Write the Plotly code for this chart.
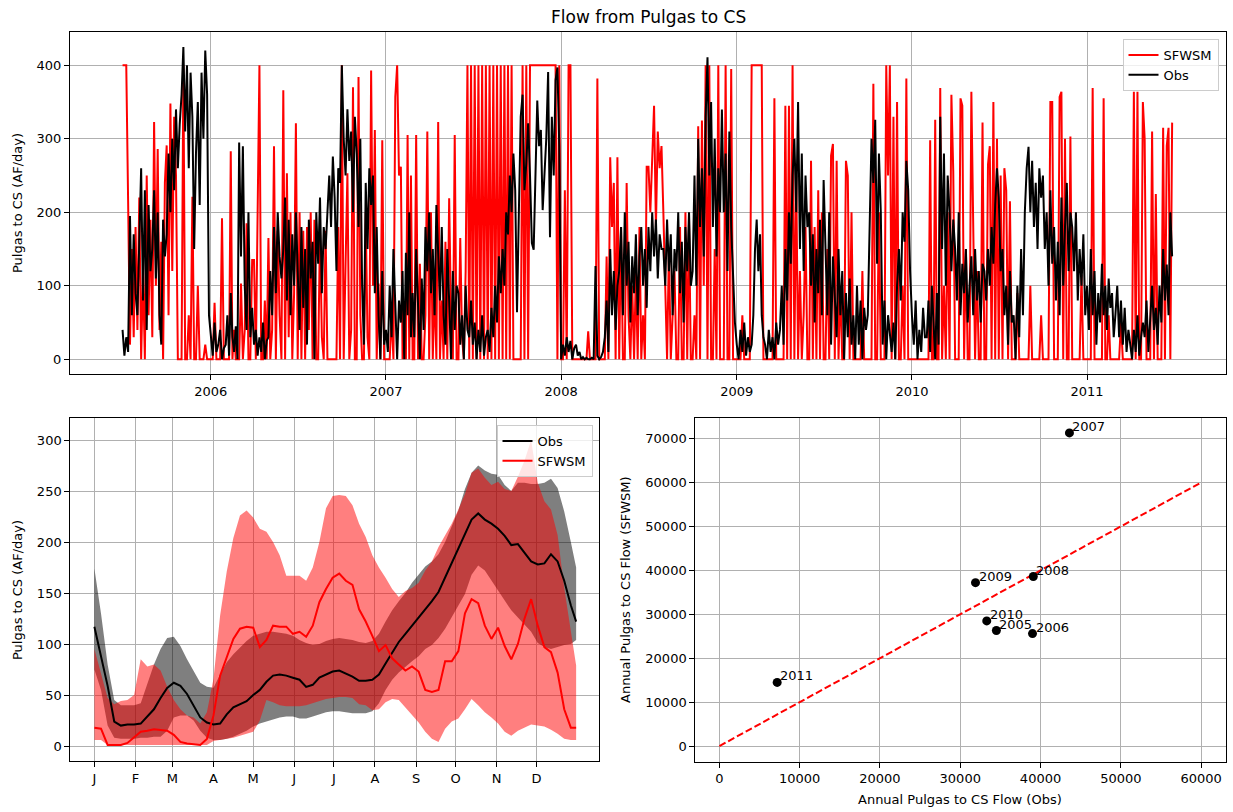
import pandas as pd
import plotly.graph_objects as go

# ---------------- Top panel: flow readings (8 per month) ----------------
obs_2005 = [40, 5, 30, 10, 195, 60, 170, 90,
            60, 180, 260, 80, 230, 40, 210, 120,
            150, 230, 110, 200, 60, 20, 190, 140,
            170, 280, 200, 300, 230, 340, 260, 320,
            360, 425, 310, 400, 260, 390, 330, 150,
            280, 350, 210, 390, 300, 420, 360, 60]
sim_2005 = [400, 400, 400, 215, 20, 150, 30, 180,
            40, 220, 0, 120, 0, 250, 60, 190,
            30, 323, 100, 286, 40, 160, 0, 240,
            291, 60, 348, 120, 330, 250, 0, 0,
            0, 400, 0, 0, 60, 0, 221, 0,
            0, 100, 0, 0, 0, 20, 0, 0]
obs_2006 = [30, 5, 50, 10, 20, 40, 0, 15,
            20, 60, 5, 90, 30, 10, 45, 0,
            295, 140, 290, 100, 40, 200, 30, 70,
            20, 40, 5, 30, 10, 50, 0, 25,
            30, 120, 60, 180, 90, 200, 140, 110,
            150, 220, 80, 190, 60, 170, 100, 200,
            120, 40, 180, 70, 150, 20, 190, 110,
            160, 0, 200, 130, 220, 90, 180, 150,
            200, 250, 180, 276, 220, 120, 260, 240,
            400, 300, 250, 340, 270, 310, 200, 330,
            280, 180, 300, 100, 20, 240, 150, 260,
            210, 250, 90, 180, 60, 0, 120, 20]
sim_2006 = [0, 0, 77, 0, 0, 0, 192, 0,
            0, 0, 0, 283, 0, 40, 0, 0,
            0, 103, 0, 40, 185, 0, 0, 135,
            135, 0, 185, 400, 0, 0, 80, 0,
            165, 0, 40, 290, 0, 175, 60, 0,
            366, 0, 253, 30, 200, 0, 90, 321,
            0, 200, 0, 175, 0, 180, 40, 200,
            0, 190, 0, 0, 175, 30, 0, 175,
            0, 0, 0, 0, 0, 0, 180, 0,
            400, 0, 130, 253, 0, 40, 370, 0,
            0, 384, 60, 0, 0, 200, 30, 0,
            393, 100, 312, 0, 103, 0, 298, 0]
obs_2007 = [40, 10, 100, 30, 150, 60, 0, 80,
            50, 120, 0, 145, 60, 200, 30, 90,
            30, 150, 80, 0, 110, 40, 180, 120,
            200, 90, 150, 60, 210, 130, 80, 180,
            60, 20, 150, 80, 0, 120, 40, 100,
            90, 20, 60, 0, 100, 40, 30, 80,
            20, 50, 0, 40, 10, 60, 5, 30,
            40, 10, 70, 30, 100, 50, 140, 90,
            150, 100, 200, 170, 250, 200, 280, 230,
            64, 200, 330, 360, 230, 266, 321, 250,
            158, 149, 266, 352, 290, 312, 203, 250,
            300, 391, 166, 330, 250, 380, 397, 289]
sim_2007 = [0, 0, 0, 60, 0, 357, 400, 250,
            262, 0, 40, 0, 305, 0, 250, 0,
            0, 305, 0, 130, 0, 0, 60, 310,
            0, 200, 0, 100, 0, 323, 0, 80,
            0, 160, 0, 219, 60, 0, 305, 0,
            0, 165, 30, 0, 120, 400, 0, 400,
            0, 400, 0, 400, 0, 400, 0, 400,
            0, 400, 0, 400, 0, 400, 0, 400,
            0, 400, 0, 400, 0, 400, 0, 0,
            0, 0, 0, 400, 0, 400, 0, 400,
            400, 400, 400, 400, 400, 400, 400, 400,
            400, 400, 400, 400, 400, 400, 0, 400]
obs_2008 = [0, 20, 5, 30, 10, 25, 0, 15,
            20, 5, 10, 0, 3, 0, 2, 0,
            0, 2, 0, 127, 5, 0, 3, 10,
            30, 80, 10, 150, 60, 120, 40, 100,
            120, 180, 60, 200, 100, 160, 50, 140,
            90, 170, 60, 140, 180, 100, 150, 70,
            180, 120, 200, 140, 190, 110, 170, 150,
            150, 100, 190, 120, 170, 60, 150, 120,
            200, 90, 160, 50, 180, 120, 200, 100,
            120, 250, 100, 300, 180, 260, 140, 330,
            411, 250, 350, 180, 300, 140, 260, 200,
            340, 200, 280, 120, 310, 180, 100, 50]
sim_2008 = [0, 0, 230, 0, 400, 400, 0, 0,
            0, 0, 0, 0, 0, 0, 0, 38,
            0, 0, 0, 0, 382, 0, 0, 0,
            0, 140, 0, 275, 180, 240, 0, 275,
            0, 180, 0, 0, 240, 60, 0, 100,
            0, 120, 0, 180, 0, 60, 0, 262,
            262, 200, 290, 345, 180, 310, 260, 290,
            200, 100, 0, 150, 0, 60, 120, 0,
            0, 180, 0, 0, 200, 0, 190, 0,
            0, 60, 0, 317, 0, 325, 100, 400,
            0, 400, 0, 0, 150, 0, 400, 0,
            0, 0, 400, 0, 0, 395, 0, 0]
obs_2009 = [20, 0, 40, 10, 50, 5, 30, 10,
            20, 60, 150, 190, 120, 170, 60, 30,
            20, 0, 40, 10, 30, 0, 50, 20,
            40, 100, 20, 150, 80, 200, 130, 250,
            300, 200, 350, 150, 280, 120, 250, 180,
            200, 100, 170, 50, 150, 90, 190, 60,
            244, 150, 60, 200, 20, 140, 80, 30,
            150, 60, 120, 0, 90, 30, 110, 20,
            60, 0, 100, 20, 80, 0, 70, 40,
            60, 200, 300, 240, 326, 130, 280, 200,
            20, 80, 0, 60, 30, 10, 50, 0,
            100, 150, 80, 200, 160, 270, 230, 120]
sim_2009 = [0, 0, 0, 60, 0, 0, 0, 0,
            400, 400, 400, 400, 400, 400, 400, 0,
            0, 0, 0, 0, 0, 355, 0, 0,
            0, 0, 0, 345, 0, 345, 0, 400,
            0, 250, 0, 120, 0, 60, 180, 0,
            0, 270, 0, 180, 0, 230, 0, 200,
            0, 0, 150, 0, 277, 293, 0, 270,
            0, 100, 0, 0, 270, 250, 0, 200,
            0, 0, 0, 0, 0, 120, 0, 0,
            0, 0, 0, 375, 0, 0, 200, 0,
            0, 0, 400, 250, 400, 0, 330, 0,
            350, 0, 0, 100, 0, 382, 0, 0]
obs_2010 = [60, 20, 80, 0, 40, 10, 70, 30,
            30, 80, 10, 100, 50, 0, 90, 20,
            330, 150, 280, 100, 250, 200, 120, 190,
            150, 80, 200, 60, 130, 90, 150, 50,
            100, 140, 60, 150, 80, 120, 50, 130,
            120, 80, 150, 100, 180, 130, 210, 260,
            220, 120, 150, 60, 100, 20, 120, 50,
            60, 0, 100, 30, 150, 60, 200, 260,
            289, 200, 270, 180, 240, 150, 260, 220,
            250, 150, 200, 100, 230, 130, 180, 80,
            160, 60, 220, 100, 180, 240, 120, 200,
            180, 120, 200, 80, 150, 100, 170, 60]
sim_2010 = [0, 0, 0, 0, 0, 0, 0, 0,
            0, 0, 298, 0, 0, 326, 0, 0,
            369, 0, 100, 0, 200, 0, 360, 255,
            0, 0, 0, 355, 345, 0, 150, 0,
            0, 364, 200, 0, 120, 0, 0, 322,
            0, 0, 265, 290, 0, 350, 0, 300,
            0, 250, 0, 260, 230, 0, 215, 0,
            0, 0, 90, 0, 0, 0, 0, 0,
            0, 100, 0, 0, 0, 0, 0, 60,
            0, 0, 0, 0, 350, 350, 0, 0,
            0, 357, 364, 0, 300, 0, 0, 303,
            0, 0, 0, 0, 0, 115, 0, 0]
obs_2011 = [100, 40, 150, 60, 120, 20, 90, 50,
            130, 60, 100, 40, 110, 70, 90, 30,
            60, 100, 30, 80, 20, 70, 10, 40,
            20, 0, 40, 10, 60, 5, 30, 50,
            30, 80, 10, 60, 100, 40, 70, 20,
            100, 50, 150, 80, 129, 60, 200, 140]
sim_2011 = [0, 0, 0, 369, 0, 0, 0, 0,
            0, 355, 0, 0, 60, 0, 0, 0,
            0, 0, 0, 50, 0, 0, 0, 0,
            0, 0, 364, 0, 364, 0, 0, 350,
            300, 0, 0, 0, 310, 0, 225, 0,
            0, 0, 315, 0, 290, 315, 0, 322]

obs_daily = obs_2005 + obs_2006 + obs_2007 + obs_2008 + obs_2009 + obs_2010 + obs_2011
sim_daily = sim_2005 + sim_2006 + sim_2007 + sim_2008 + sim_2009 + sim_2010 + sim_2011

dates = []
for m in pd.date_range("2005-07-01", "2011-06-01", freq="MS"):
    n = m.days_in_month
    for k in range(8):
        dates.append(m + pd.Timedelta(days=k * n / 8.0))

# ---------------- Bottom-left: seasonal climatology ----------------
doy = list(range(0, 361, 5)) + [364]
obs_mean = [117, 88, 59, 24, 20, 21, 21, 22, 29, 36,
            47, 57, 62, 59, 51, 39, 28, 23, 21, 22,
            31, 38, 41, 44, 50, 55, 63, 69, 70, 69,
            67, 65, 58, 60, 67, 70, 73, 74, 71, 68,
            64, 64, 65, 70, 81, 92, 102, 110, 118, 126,
            133, 142, 151, 165, 180, 194, 207, 222, 228, 222,
            218, 213, 206, 197, 198, 190, 181, 178, 179, 188,
            181, 162, 138, 122]
sim_mean = [18, 17, 1, 1, 1, 3, 9, 14, 15, 16.5,
            15.7, 15, 11, 4, 2.5, 2, 1, 7, 30, 69,
            87, 105, 115, 117, 116, 97, 104, 118, 117, 117,
            110, 112, 107, 118, 141, 154, 165, 169, 162, 158,
            134, 122, 108, 93, 99, 86, 80, 74, 78, 73,
            55, 53, 55, 83, 83, 93, 130, 144, 140, 118,
            105, 116, 98, 85, 100, 125, 144, 118, 97, 92,
            72, 36, 18, 18]
obs_hi = [174, 130, 80, 45, 40, 40, 40, 42, 60, 80,
          95, 106, 107, 98, 85, 73, 62, 58, 57, 70,
          82, 90, 97, 103, 108, 110, 112, 112, 111, 110,
          108, 104, 101, 99, 100, 103, 105, 106, 105, 104,
          102, 101, 103, 110, 122, 133, 142, 150, 160, 168,
          176, 181, 188, 200, 215, 231, 252, 268, 275, 270,
          267, 266, 256, 250, 258, 258, 257, 257, 258, 262,
          253, 230, 200, 175]
obs_lo = [75, 55, 20, 8, 7, 7, 7, 8, 8, 9,
          9, 15, 28, 30, 30, 25, 15, 8, 6, 6,
          7, 9, 12, 15, 19, 22, 24, 26, 28, 29,
          29, 27, 27, 29, 31, 33, 34, 34, 33, 32,
          32, 32, 34, 42, 55, 65, 72, 78, 83, 88,
          95, 99, 106, 115, 126, 138, 149, 168, 177, 172,
          162, 152, 142, 133, 126, 119, 112, 101, 97, 95,
          97, 99, 100, 104]
sim_hi = [95, 70, 47, 41, 44, 45, 50, 85, 78, 80,
          74, 58, 45, 36, 30, 28, 22, 33, 66, 128,
          171, 204, 226, 231, 224, 213, 210, 200, 187, 167,
          167, 167, 162, 175, 200, 233, 245, 246, 245, 236,
          218, 205, 187, 175, 165, 154, 146, 152, 155, 160,
          172, 181, 195, 207, 218, 232, 247, 268, 272, 263,
          256, 259, 252, 250, 264, 280, 300, 258, 240, 232,
          207, 155, 110, 79]
sim_lo = [6, 6, 1, 1, 1, 1, 1, 1, 1, 1,
          1, 1, 1, 1, 1, 1, 1, 1, 5, 6,
          7, 8, 10, 12, 14, 25, 45, 43, 40, 39,
          39, 39, 40, 42, 44, 46, 47, 48, 48, 47,
          41, 40, 35, 36, 43, 46, 45, 38, 31, 23,
          14, 7, 4, 17, 24, 27, 36, 46, 40, 33,
          28, 22, 14, 10, 15, 18, 21, 20, 19, 16,
          12, 7, 6, 6]
month_days = [0, 31, 59, 90, 120, 151, 181, 212, 243, 273, 304, 334]
month_labels = ["J", "F", "M", "A", "M", "J", "J", "A", "S", "O", "N", "D"]

# ---------------- Bottom-right: annual totals ----------------
years = ["2005", "2006", "2007", "2008", "2009", "2010", "2011"]
annual_obs = [34500, 39000, 43600, 39100, 31900, 33300, 7200]
annual_sim = [26300, 25600, 71300, 38600, 37200, 28500, 14500]
one_to_one = [0, 60000]

W, H = 1233, 812
FONT = "DejaVu Sans"
RED = "#ff0000"
BLACK = "#000000"

fig = go.Figure()

# top panel
fig.add_trace(go.Scatter(x=dates, y=sim_daily, mode="lines", name="SFWSM",
                         line=dict(color=RED, width=2),
                         xaxis="x", yaxis="y", legend="legend"))
fig.add_trace(go.Scatter(x=dates, y=obs_daily, mode="lines", name="Obs",
                         line=dict(color=BLACK, width=2),
                         xaxis="x", yaxis="y", legend="legend"))

# bottom-left bands
fig.add_trace(go.Scatter(x=doy, y=obs_lo, mode="lines", line=dict(width=0, color="rgba(0,0,0,0)"),
                         showlegend=False, hoverinfo="skip", xaxis="x2", yaxis="y2"))
fig.add_trace(go.Scatter(x=doy, y=obs_hi, mode="lines", line=dict(width=0, color="rgba(0,0,0,0)"),
                         fill="tonexty", fillcolor="rgba(0,0,0,0.5)",
                         showlegend=False, hoverinfo="skip", xaxis="x2", yaxis="y2"))
fig.add_trace(go.Scatter(x=doy, y=sim_lo, mode="lines", line=dict(width=0, color="rgba(0,0,0,0)"),
                         showlegend=False, hoverinfo="skip", xaxis="x2", yaxis="y2"))
fig.add_trace(go.Scatter(x=doy, y=sim_hi, mode="lines", line=dict(width=0, color="rgba(0,0,0,0)"),
                         fill="tonexty", fillcolor="rgba(255,0,0,0.5)",
                         showlegend=False, hoverinfo="skip", xaxis="x2", yaxis="y2"))
fig.add_trace(go.Scatter(x=doy, y=obs_mean, mode="lines", name="Obs",
                         line=dict(color=BLACK, width=2), xaxis="x2", yaxis="y2", legend="legend2"))
fig.add_trace(go.Scatter(x=doy, y=sim_mean, mode="lines", name="SFWSM",
                         line=dict(color=RED, width=2), xaxis="x2", yaxis="y2", legend="legend2"))

# bottom-right
fig.add_trace(go.Scatter(x=one_to_one, y=one_to_one, mode="lines", showlegend=False,
                         line=dict(color=RED, width=2, dash="7px,3px"), xaxis="x3", yaxis="y3"))
fig.add_trace(go.Scatter(x=annual_obs, y=annual_sim, mode="markers", showlegend=False,
                         marker=dict(color=BLACK, size=9), xaxis="x3", yaxis="y3"))

tick_font = dict(family=FONT, size=13, color="#000000")
common = dict(showline=True, mirror=True, linecolor="#000000", linewidth=1,
              ticks="outside", ticklen=5, tickwidth=1, tickcolor="#000000",
              showgrid=True, gridcolor="#b0b0b0", gridwidth=1, zeroline=False,
              tickfont=tick_font)

def px2fx(px):
    return px / W

def px2fy(py):
    return 1 - py / H

year_ticks = [pd.Timestamp(f"{y}-01-01") for y in range(2006, 2012)]

fig.update_layout(
    width=W, height=H, autosize=False,
    margin=dict(l=0, r=0, t=0, b=0),
    paper_bgcolor="white", plot_bgcolor="white",
    font=dict(family=FONT, size=13, color="#000000"),
    xaxis=dict(domain=[px2fx(70), px2fx(1226)], anchor="y", type="date",
               range=["2005-03-13 12:00", "2011-10-17 12:00"],
               tickvals=year_ticks, ticktext=[str(t.year) for t in year_ticks], **common),
    yaxis=dict(domain=[px2fy(374.3), px2fy(32)], anchor="x", range=[-20.4, 445.3],
               tickvals=[0, 100, 200, 300, 400], **common),
    xaxis2=dict(domain=[px2fx(70.3), px2fx(599.3)], anchor="y2", range=[-18.2, 381.5],
                tickvals=month_days, ticktext=month_labels, **common),
    yaxis2=dict(domain=[px2fy(761.3), px2fy(418.3)], anchor="x2", range=[-15.0, 321.3],
                tickvals=[0, 50, 100, 150, 200, 250, 300], **common),
    xaxis3=dict(domain=[px2fx(695.3), px2fx(1226)], anchor="y3", range=[-3000, 63100],
                tickvals=[0, 10000, 20000, 30000, 40000, 50000, 60000], tickformat="d", **common),
    yaxis3=dict(domain=[px2fy(761.7), px2fy(417.7)], anchor="x3", range=[-3560, 74760],
                tickvals=[0, 10000, 20000, 30000, 40000, 50000, 60000, 70000], tickformat="d", **common),
    legend=dict(x=px2fx(1218.5), y=px2fy(39), xanchor="right", yanchor="top",
                bgcolor="rgba(255,255,255,0.8)", bordercolor="#cccccc", borderwidth=1,
                font=dict(family=FONT, size=13, color="#000000"), traceorder="normal"),
    legend2=dict(x=px2fx(592.5), y=px2fy(425), xanchor="right", yanchor="top",
                 bgcolor="rgba(255,255,255,0.8)", bordercolor="#cccccc", borderwidth=1,
                 font=dict(family=FONT, size=13, color="#000000"), traceorder="normal"),
    showlegend=True,
)

annotations = [
    dict(text="Flow from Pulgas to CS", x=px2fx(648), y=px2fy(17), xref="paper", yref="paper",
         showarrow=False, xanchor="center", yanchor="middle", font=dict(family=FONT, size=17)),
    dict(text="Pulgas to CS (AF/day)", x=px2fx(17), y=px2fy(203), xref="paper", yref="paper",
         showarrow=False, textangle=-90, xanchor="center", yanchor="middle", font=dict(family=FONT, size=13)),
    dict(text="Pulgas to CS (AF/day)", x=px2fx(17), y=px2fy(590), xref="paper", yref="paper",
         showarrow=False, textangle=-90, xanchor="center", yanchor="middle", font=dict(family=FONT, size=13)),
    dict(text="Annual Pulgas to CS Flow (SFWSM)", x=px2fx(625), y=px2fy(590), xref="paper", yref="paper",
         showarrow=False, textangle=-90, xanchor="center", yanchor="middle", font=dict(family=FONT, size=13)),
    dict(text="Annual Pulgas to CS Flow (Obs)", x=px2fx(960), y=px2fy(799), xref="paper", yref="paper",
         showarrow=False, xanchor="center", yanchor="middle", font=dict(family=FONT, size=13)),
]
for yr, xo, yo in zip(years, annual_obs, annual_sim):
    annotations.append(dict(text=yr, x=xo, y=yo, xref="x3", yref="y3", showarrow=False,
                            xanchor="left", yanchor="bottom", xshift=1, yshift=-3,
                            font=dict(family=FONT, size=13, color="#000000")))
fig.update_layout(annotations=annotations)

fig.write_html("out.html", config={"displayModeBar": False},
               post_script="document.body.style.margin='0px';document.body.style.overflow='hidden';")
